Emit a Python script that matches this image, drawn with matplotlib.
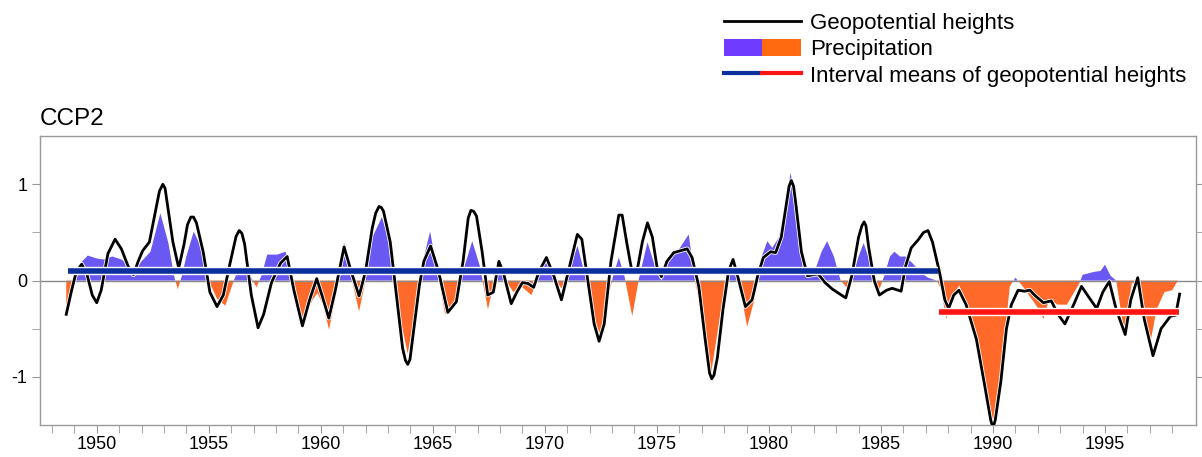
import numpy as np
import matplotlib
matplotlib.use("Agg")
import matplotlib.pyplot as plt
import matplotlib.patheffects as pe
from matplotlib.lines import Line2D
from matplotlib.patches import Patch
from matplotlib.legend_handler import HandlerTuple

plt.rcParams['font.family'] = ['Liberation Sans', 'DejaVu Sans']

# Geopotential heights (black curve)
gph_year = [1948.64, 1948.9, 1949.1, 1949.33, 1949.55, 1949.8, 1950.0, 1950.2, 1950.5, 1950.82,
            1951.1, 1951.4, 1951.64, 1951.85, 1952.05, 1952.35, 1952.65, 1952.8, 1952.95, 1953.05,
            1953.15, 1953.4, 1953.66, 1953.9, 1954.05, 1954.2, 1954.32, 1954.45, 1954.75, 1955.05,
            1955.37, 1955.65, 1955.95, 1956.22, 1956.36, 1956.48, 1956.6, 1956.9, 1957.2, 1957.45,
            1957.8, 1958.2, 1958.5, 1958.8, 1959.18, 1959.5, 1959.82, 1960.05, 1960.36, 1960.65,
            1961.04, 1961.35, 1961.71, 1962.0, 1962.3, 1962.45, 1962.6, 1962.7, 1962.8, 1963.1,
            1963.4, 1963.65, 1963.78, 1963.88, 1963.98, 1964.1, 1964.4, 1964.6, 1964.9, 1965.25,
            1965.67, 1966.05, 1966.35, 1966.58, 1966.7, 1966.82, 1966.95, 1967.2, 1967.45, 1967.7,
            1967.95, 1968.15, 1968.5, 1968.75, 1969.0, 1969.25, 1969.5, 1969.75, 1970.07, 1970.4,
            1970.74, 1971.0, 1971.45, 1971.65, 1971.95, 1972.2, 1972.42, 1972.65, 1972.95, 1973.3,
            1973.45, 1973.65, 1973.85, 1974.1, 1974.35, 1974.58, 1974.8, 1975.0, 1975.2, 1975.45,
            1975.75, 1976.35, 1976.57, 1976.87, 1977.15, 1977.35, 1977.45, 1977.55, 1977.7, 1977.95,
            1978.2, 1978.4, 1978.6, 1978.95, 1979.25, 1979.5, 1979.75, 1980.08, 1980.3, 1980.55,
            1980.75, 1980.9, 1981.0, 1981.1, 1981.2, 1981.45, 1981.72, 1982.2, 1982.5, 1982.84,
            1983.43, 1983.7, 1984.0, 1984.15, 1984.25, 1984.33, 1984.45, 1984.7, 1984.93, 1985.25,
            1985.5, 1985.9, 1986.1, 1986.35, 1986.65, 1986.9, 1987.1, 1987.3, 1987.62, 1987.85,
            1988.02, 1988.25, 1988.48, 1988.8, 1989.26, 1989.6, 1989.9, 1990.0, 1990.1, 1990.35,
            1990.6, 1990.82, 1991.12, 1991.4, 1991.65, 1991.9, 1992.25, 1992.6, 1992.9, 1993.21,
            1993.6, 1993.95, 1994.3, 1994.63, 1994.9, 1995.19, 1995.5, 1995.9, 1996.15, 1996.46,
            1996.75, 1997.14, 1997.5, 1997.92, 1998.15, 1998.33]
gph_val = [-0.35, -0.08, 0.10, 0.17, 0.08, -0.15, -0.23, -0.10, 0.28, 0.43,
           0.33, 0.15, 0.06, 0.20, 0.31, 0.40, 0.75, 0.93, 1.00, 0.96,
           0.80, 0.40, 0.13, 0.38, 0.58, 0.66, 0.66, 0.60, 0.30, -0.12,
           -0.27, -0.15, 0.18, 0.46, 0.52, 0.49, 0.38, -0.15, -0.49, -0.35,
           -0.02, 0.18, 0.25, -0.10, -0.47, -0.20, 0.02, -0.15, -0.39, -0.10,
           0.35, 0.10, -0.16, 0.10, 0.55, 0.70, 0.77, 0.76, 0.72, 0.40,
           -0.20, -0.70, -0.83, -0.87, -0.82, -0.60, -0.05, 0.20, 0.36, 0.10,
           -0.33, -0.22, 0.20, 0.65, 0.73, 0.72, 0.67, 0.30, -0.15, -0.12,
           0.20, 0.08, -0.24, -0.12, -0.02, -0.03, -0.07, 0.10, 0.24, 0.05,
           -0.20, 0.05, 0.48, 0.43, -0.05, -0.45, -0.63, -0.45, 0.20, 0.68,
           0.68, 0.40, 0.14, 0.08, 0.40, 0.60, 0.45, 0.15, 0.04, 0.20,
           0.29, 0.33, 0.24, -0.06, -0.60, -0.96, -1.02, -0.98, -0.80, -0.30,
           0.10, 0.22, 0.05, -0.27, -0.20, 0.05, 0.24, 0.30, 0.29, 0.45,
           0.75, 0.98, 1.04, 0.98, 0.80, 0.30, 0.05, 0.07, -0.02, -0.09,
           -0.18, 0.05, 0.45, 0.57, 0.61, 0.57, 0.35, 0.00, -0.15, -0.10,
           -0.08, -0.11, 0.15, 0.34, 0.42, 0.50, 0.52, 0.40, 0.08, -0.20,
           -0.29, -0.15, -0.10, -0.25, -0.61, -1.05, -1.45, -1.53, -1.45, -1.05,
           -0.50, -0.25, -0.10, -0.11, -0.10, -0.16, -0.23, -0.21, -0.35, -0.45,
           -0.25, -0.06, -0.18, -0.29, -0.12, -0.01, -0.30, -0.56, -0.20, 0.03,
           -0.40, -0.78, -0.50, -0.37, -0.36, -0.14]

# Precipitation (filled area)
pr_year = [1948.64, 1948.9, 1949.1, 1949.35, 1949.6, 1950.0, 1950.3, 1950.7, 1951.1, 1951.45,
           1951.7, 1952.0, 1952.4, 1952.84, 1953.2, 1953.45, 1953.62, 1953.8, 1954.0, 1954.33,
           1954.63, 1955.0, 1955.37, 1955.74, 1955.97, 1956.2, 1956.5, 1956.85, 1957.13, 1957.35,
           1957.61, 1958.05, 1958.43, 1958.65, 1958.95, 1959.18, 1959.63, 1959.85, 1960.1, 1960.37,
           1960.75, 1961.04, 1961.35, 1961.71, 1961.95, 1962.3, 1962.73, 1963.0, 1963.3, 1963.6,
           1963.88, 1964.15, 1964.45, 1964.88, 1965.2, 1965.55, 1966.0, 1966.35, 1966.76, 1967.1,
           1967.46, 1967.7, 1967.95, 1968.2, 1968.6, 1968.9, 1969.4, 1969.75, 1970.07, 1970.4,
           1970.75, 1971.05, 1971.46, 1971.8, 1972.15, 1972.46, 1972.8, 1973.05, 1973.3, 1973.55,
           1973.9, 1974.2, 1974.58, 1974.95, 1975.2, 1975.6, 1976.0, 1976.42, 1976.7, 1977.05,
           1977.42, 1977.8, 1978.1, 1978.39, 1978.65, 1979.03, 1979.35, 1979.6, 1979.93, 1980.15,
           1980.45, 1980.7, 1980.97, 1981.25, 1981.5, 1981.72, 1982.05, 1982.35, 1982.6, 1982.9,
           1983.2, 1983.5, 1983.75, 1984.0, 1984.23, 1984.5, 1984.75, 1984.93, 1985.15, 1985.4,
           1985.6, 1985.85, 1986.12, 1986.45, 1986.8, 1987.1, 1987.5, 1987.7, 1987.91, 1988.2,
           1988.5, 1988.8, 1989.26, 1989.6, 1990.0, 1990.35, 1990.6, 1990.75, 1991.0, 1991.3,
           1991.75, 1992.05, 1992.25, 1992.5, 1992.9, 1993.3, 1993.85, 1994.0, 1994.5, 1994.8,
           1995.0, 1995.25, 1995.5, 1995.85, 1996.2, 1996.6, 1997.02, 1997.3, 1997.65, 1998.0,
           1998.25]
pr_val = [-0.30, -0.12, 0.05, 0.20, 0.26, 0.23, 0.22, 0.25, 0.22, 0.16,
          0.10, 0.20, 0.30, 0.70, 0.39, 0.05, -0.09, 0.05, 0.25, 0.51,
          0.36, 0.00, -0.19, -0.26, -0.10, 0.05, 0.13, 0.05, -0.07, 0.05,
          0.27, 0.27, 0.30, 0.10, -0.20, -0.45, -0.20, -0.13, -0.25, -0.51,
          -0.06, 0.39, 0.05, -0.32, -0.05, 0.45, 0.66, 0.45, 0.00, -0.45,
          -0.76, -0.40, 0.10, 0.51, 0.10, -0.35, -0.20, 0.10, 0.41, 0.15,
          -0.30, -0.05, 0.22, 0.02, -0.12, -0.05, -0.15, 0.05, 0.22, 0.02,
          -0.08, 0.10, 0.36, 0.05, -0.35, -0.56, -0.20, 0.05, 0.24, 0.05,
          -0.37, 0.02, 0.40, 0.12, 0.00, 0.27, 0.33, 0.48, 0.00, -0.40,
          -0.96, -0.40, 0.05, 0.18, 0.00, -0.48, -0.20, 0.20, 0.41, 0.34,
          0.45, 0.75, 1.12, 0.70, 0.15, 0.05, 0.10, 0.30, 0.41, 0.25,
          0.00, -0.08, 0.05, 0.25, 0.39, 0.20, 0.00, -0.09, 0.05, 0.25,
          0.30, 0.25, 0.25, 0.17, 0.08, 0.03, 0.00, -0.10, -0.40, -0.15,
          -0.05, -0.25, -0.60, -1.00, -1.48, -1.00, -0.40, -0.06, 0.03, -0.05,
          -0.20, -0.30, -0.40, -0.20, -0.25, -0.25, -0.03, 0.06, 0.09, 0.10,
          0.165, 0.05, 0.00, -0.53, -0.02, -0.05, -0.65, -0.30, -0.12, -0.10,
          0.00]

# Interval means of geopotential heights
mean_start = [1948.7, 1987.6]
mean_end = [1987.55, 1998.3]
mean_val = [0.095, -0.33]

fig = plt.figure(figsize=(12.02, 4.57), dpi=100)
ax = fig.add_axes([0.0333, 0.070, 0.9617, 0.632])

blue_fill = '#6a58f2'
orange_fill = '#ff6a2a'
pr_y = np.array(pr_year)
pr_v = np.array(pr_val)
ax.fill_between(pr_y, 0, pr_v, where=pr_v >= 0, interpolate=True, color=blue_fill, lw=0)
ax.fill_between(pr_y, 0, pr_v, where=pr_v <= 0, interpolate=True, color=orange_fill, lw=0)

ax.axhline(0, color='#888888', lw=1, zorder=1.5)

ax.plot(gph_year, gph_val, color='white', lw=3.2, solid_joinstyle='round', zorder=3)
ax.plot(gph_year, gph_val, color='black', lw=2, solid_joinstyle='round', zorder=4)

halo = [pe.Stroke(linewidth=6, foreground='white'), pe.Normal()]
ax.hlines(mean_val[0], mean_start[0], mean_end[0], color='#0b2f9c', lw=4, zorder=5, path_effects=halo)
ax.hlines(mean_val[1], mean_start[1], mean_end[1], color='#ff1414', lw=4, zorder=5, path_effects=halo)

ax.set_xlim(1947.47, 1999.06)
ax.set_ylim(-1.5, 1.5)
ax.set_xticks(np.arange(1950, 1996, 5))
ax.set_xticks(np.arange(1948, 1999, 1), minor=True)
ax.set_yticks([-1, 0, 1])
ax.set_yticklabels(['-1', '0', '1'])
ax.set_yticks([-0.5, 0.5], minor=True)

for s in ax.spines.values():
    s.set_color('#999999')
    s.set_linewidth(1)

ax.tick_params(axis='both', which='both', direction='out', color='#999999', labelsize=13)
ax.tick_params(axis='x', which='both', length=6, pad=2)
ax.tick_params(axis='y', which='both', length=6, pad=3, right=True)

ax.text(0.0, 1.02, 'CCP2', transform=ax.transAxes, fontsize=17.5, ha='left', va='bottom')

h_line = Line2D([], [], color='black', lw=2)
h_fill = (Patch(color='#6f3cff', lw=0), Patch(color='#ff6a10', lw=0))
h_mean = (Line2D([], [], color='#0b2f9c', lw=3), Line2D([], [], color='#ff1414', lw=3))
fig.legend([h_line, h_fill, h_mean],
           ['Geopotential heights', 'Precipitation', 'Interval means of geopotential heights'],
           handler_map={tuple: HandlerTuple(ndivide=None, pad=0)},
           loc='upper left', bbox_to_anchor=(0.602, 0.972), frameon=False, fontsize=16,
           handlelength=3.5, handleheight=0.82, handletextpad=0.4, labelspacing=0.22,
           borderpad=0, borderaxespad=0)

fig.savefig('out.png', dpi=100)
